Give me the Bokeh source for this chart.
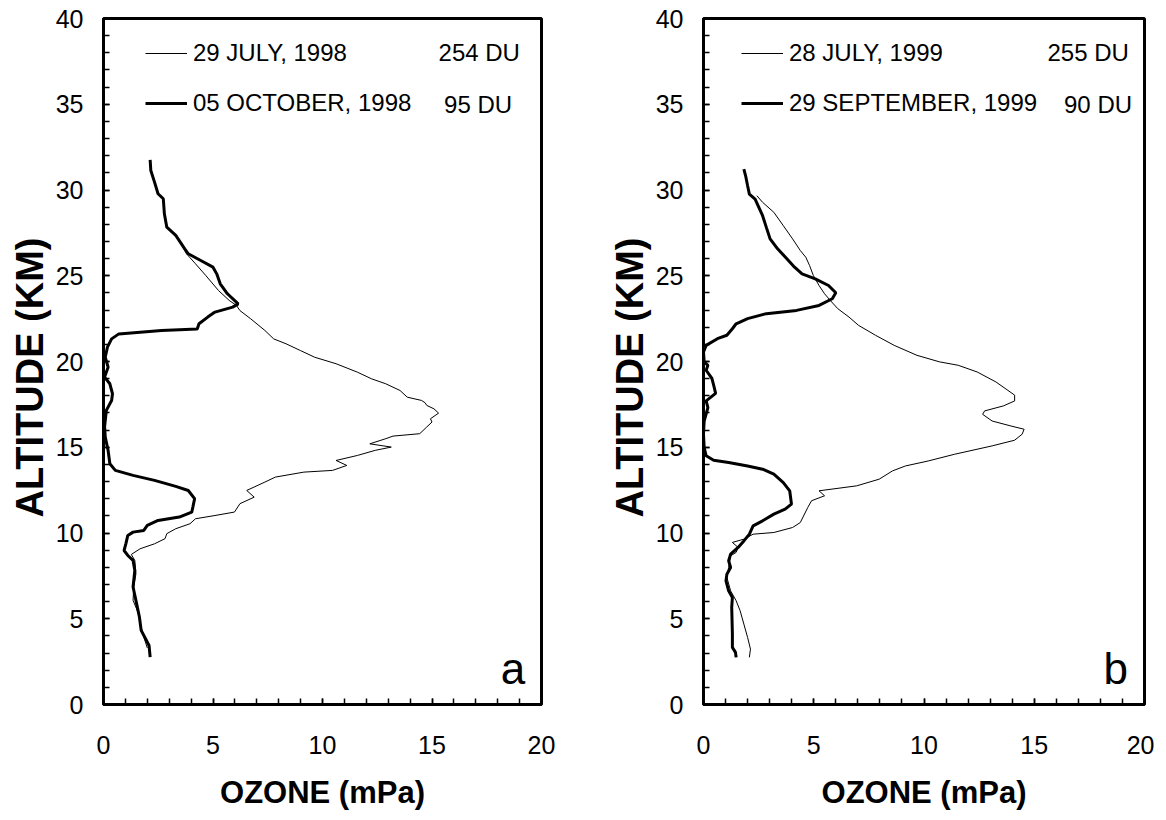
from bokeh.plotting import figure
from bokeh.layouts import row
from bokeh.models import Range1d, SingleIntervalTicker, Legend, LegendItem, Label, Title
from bokeh.embed import file_html
from bokeh.resources import INLINE

# ---------------- data: panel a (1998) ----------------
a_jul_ozone = [3.63, 3.79, 4.20, 4.68, 5.25, 5.74, 6.07, 6.23, 6.72, 7.37, 7.77, 8.34, 8.99, 9.64,
               10.62, 11.59, 12.24, 12.89, 13.54, 13.87, 14.52, 14.68, 14.76, 15.09, 15.30, 14.93,
               15.00, 14.76, 14.44, 13.22, 12.89, 12.16, 13.14, 12.41, 11.59, 10.62, 11.11, 10.46,
               9.15, 7.85, 7.37, 6.54, 6.88, 6.23, 5.98, 5.09, 4.20, 3.95, 3.30, 2.89, 2.81, 2.33,
               1.67, 1.27, 1.43, 1.48, 1.38, 1.35, 1.51, 1.59, 1.70, 1.85, 2.00]
a_jul_alt = [26.67, 26.28, 25.70, 25.00, 24.14, 23.56, 23.27, 22.97, 22.49, 21.81, 21.32, 21.03, 20.64,
             20.25, 19.87, 19.38, 18.99, 18.70, 18.31, 17.92, 17.73, 17.60, 17.44, 17.24, 16.99, 16.66,
             16.47, 16.18, 15.79, 15.65, 15.50, 15.20, 15.01, 14.82, 14.52, 14.23, 13.94, 13.65, 13.55,
             13.26, 12.97, 12.48, 12.09, 11.71, 11.22, 11.02, 10.83, 10.54, 10.25, 9.96, 9.67, 9.37,
             9.08, 8.75, 8.40, 7.62, 6.85, 6.07, 5.58, 5.29, 4.60, 3.90, 3.30]

a_oct_ozone = [2.13, 2.16, 2.33, 2.49, 2.73, 2.78, 2.89, 3.30, 3.71, 3.87, 4.44, 5.00, 5.17, 5.33,
               5.66, 6.15, 5.90, 5.09, 4.76, 4.36, 4.28, 2.65, 0.70, 0.37, 0.18, 0.08, 0.21, 0.05,
               0.29, 0.41, 0.37, 0.13, 0.05, 0.08, 0.21, 0.29, 0.54, 1.35, 2.33, 3.30, 3.87, 4.16,
               4.08, 4.03, 3.46, 2.49, 2.00, 1.84, 1.35, 1.11, 1.02, 0.94, 1.11, 1.35, 1.43, 1.35,
               1.48, 1.64, 1.72, 1.92, 2.08, 2.13]
a_oct_alt = [31.76, 31.14, 30.46, 29.78, 29.49, 28.61, 27.83, 27.35, 26.57, 26.28, 25.89, 25.50, 25.11,
             24.53, 23.95, 23.36, 23.17, 22.88, 22.59, 22.20, 21.90, 21.81, 21.61, 21.32, 20.84, 20.25,
             19.67, 19.09, 18.70, 18.12, 17.73, 17.15, 16.20, 15.59, 14.82, 14.04, 13.65, 13.36, 13.07,
             12.72, 12.48, 12.00, 11.51, 11.22, 10.93, 10.73, 10.44, 10.15, 10.05, 9.86, 9.37, 8.98,
             8.69, 8.40, 7.82, 6.85, 6.07, 5.10, 4.32, 3.83, 3.44, 2.76]

# ---------------- data: panel b (1999) ----------------
b_jul_ozone = [2.42, 2.68, 3.19, 3.62, 4.04, 4.39, 4.64, 4.81, 4.98, 5.24, 5.49, 5.75, 6.09, 6.60,
               7.03, 7.80, 8.65, 9.68, 10.70, 11.55, 12.41, 13.26, 14.11, 14.11, 13.60, 12.75, 12.66,
               13.09, 13.94, 14.54, 14.45, 14.11, 13.09, 11.38, 10.19, 9.16, 8.57, 7.97, 6.95, 5.24,
               5.49, 4.90, 4.73, 4.39, 4.04, 3.19, 2.25, 1.83, 1.31, 1.57, 1.48, 1.23, 1.14, 1.06,
               1.23, 1.48, 1.66, 1.83, 2.00, 2.13, 2.08]
b_jul_alt = [29.67, 29.28, 28.70, 27.92, 27.15, 26.47, 26.08, 25.60, 25.02, 24.43, 23.95, 23.56, 23.08,
             22.59, 22.11, 21.53, 20.94, 20.36, 19.98, 19.78, 19.39, 18.81, 18.04, 17.70, 17.41, 17.12,
             16.92, 16.53, 16.24, 16.05, 15.76, 15.41, 15.08, 14.59, 14.20, 13.91, 13.62, 13.14, 12.75,
             12.46, 12.17, 11.88, 11.49, 10.61, 10.32, 10.03, 9.93, 9.64, 9.45, 9.16, 8.87, 8.67, 7.99,
             7.41, 6.63, 6.05, 5.47, 4.69, 3.91, 3.23, 2.75]

b_sep_ozone = [1.83, 1.91, 2.00, 2.08, 2.34, 2.51, 2.68, 2.85, 3.02, 3.36, 3.79, 4.13, 4.47, 5.07,
               5.67, 6.00, 5.84, 5.24, 4.22, 2.85, 2.00, 1.48, 1.31, 1.06, 0.63, 0.12, 0.00, 0.03,
               0.20, 0.12, 0.38, 0.46, 0.55, 0.12, 0.20, 0.03, 0.00, 0.03, 0.12, 0.46, 1.14, 2.00,
               2.68, 3.19, 3.62, 3.91, 3.99, 3.70, 3.19, 2.68, 2.25, 2.08, 1.83, 1.57, 1.23, 1.14,
               1.23, 1.06, 1.02, 1.14, 1.31, 1.28, 1.31, 1.31, 1.45, 1.48]
b_sep_alt = [31.22, 30.83, 30.25, 29.76, 29.47, 28.99, 28.50, 27.82, 27.15, 26.57, 25.98, 25.50, 25.11,
             24.82, 24.43, 24.01, 23.66, 23.27, 22.98, 22.79, 22.50, 22.20, 21.91, 21.53, 21.33, 20.94,
             20.56, 19.98, 19.78, 19.49, 19.01, 18.62, 18.14, 17.70, 17.31, 16.53, 15.76, 14.98, 14.50,
             14.24, 14.11, 13.91, 13.72, 13.43, 12.94, 12.46, 11.68, 11.39, 11.10, 10.71, 10.42, 9.93,
             9.54, 9.16, 8.77, 8.38, 7.99, 7.60, 7.21, 6.63, 6.24, 5.66, 4.11, 3.33, 3.04, 2.75]

a_legend = ["29 JULY, 1998", "05 OCTOBER, 1998"]
a_du = ["254 DU", "95 DU"]
b_legend = ["28 JULY, 1999", "29 SEPTEMBER, 1999"]
b_du = ["255 DU", "90 DU"]

x_label = "OZONE (mPa)"
y_label = "ALTITUDE (KM)"

FONT = "Liberation Sans"


def make_panel(thin_x, thin_y, thick_x, thick_y, legend_labels, du_labels, du_x, letter,
               legend_dx, border_left, border_right, frame_w):
    p = figure(width=border_left + frame_w + border_right, height=812,
               x_range=Range1d(0, 20), y_range=Range1d(0, 40),
               output_backend="svg", toolbar_location=None,
               min_border_left=border_left, min_border_right=border_right,
               min_border_top=18, min_border_bottom=108)
    p.grid.visible = False
    p.background_fill_color = "white"
    p.border_fill_color = "white"
    p.outline_line_color = "black"
    p.outline_line_width = 3

    thin = p.line(thin_x, thin_y, line_color="black", line_width=1)
    thick = p.line(thick_x, thick_y, line_color="black", line_width=3)

    for ax in (p.xaxis[0], p.yaxis[0]):
        ax.ticker = SingleIntervalTicker(interval=5, num_minor_ticks=5)
        ax.axis_line_width = 3
        ax.major_tick_in = 6
        ax.major_tick_out = 0
        ax.minor_tick_in = 6
        ax.minor_tick_out = 0
        ax.major_tick_line_width = 1.5
        ax.minor_tick_line_width = 1.5
        ax.major_label_text_font = FONT
        ax.major_label_text_font_size = "25px"
        ax.major_label_text_color = "black"
    p.xaxis.axis_label = x_label
    p.xaxis.axis_label_text_font = FONT
    p.xaxis.axis_label_text_font_style = "bold"
    p.xaxis.axis_label_text_color = "black"
    p.xaxis.major_label_standoff = 31
    p.xaxis.axis_label_standoff = 18
    p.xaxis.axis_label_text_font_size = "31px"
    p.yaxis.major_label_standoff = 20

    # y-axis title, sitting slightly below the frame centre as in the original
    p.add_layout(Title(text=y_label, align="left", offset=187, standoff=4,
                       text_font=FONT, text_font_style="bold", text_font_size="38px",
                       text_color="black"), "left")

    legend = Legend(items=[LegendItem(label=legend_labels[0], renderers=[thin]),
                           LegendItem(label=legend_labels[1], renderers=[thick])],
                    location=(legend_dx, 587), glyph_width=42, glyph_height=24,
                    label_height=24, label_standoff=6, spacing=22, padding=0, margin=0,
                    border_line_alpha=0, background_fill_alpha=0,
                    label_text_font=FONT, label_text_font_size="24px",
                    label_text_color="black")
    p.add_layout(legend)

    for txt, xx, yy in zip(du_labels, du_x, [38.0, 35.0]):
        p.add_layout(Label(x=xx, y=yy, text=txt, text_baseline="middle", text_align="left",
                           text_font=FONT, text_font_size="24px", text_color="black"))
    p.add_layout(Label(x=18.7, y=2.1, text=letter, text_baseline="alphabetic",
                       text_align="center", text_font=FONT, text_font_size="44px",
                       text_color="black"))
    return p


pa = make_panel(a_jul_ozone, a_jul_alt, a_oct_ozone, a_oct_alt, a_legend, a_du,
                [15.3, 15.55], "a", 42, 103, 59, 438)
pb = make_panel(b_jul_ozone, b_jul_alt, b_sep_ozone, b_sep_alt, b_legend, b_du,
                [15.6, 16.35], "b", 38, 103, 10, 441)

layout = row(pa, pb)
open("out.html", "w").write(file_html(layout, INLINE))
